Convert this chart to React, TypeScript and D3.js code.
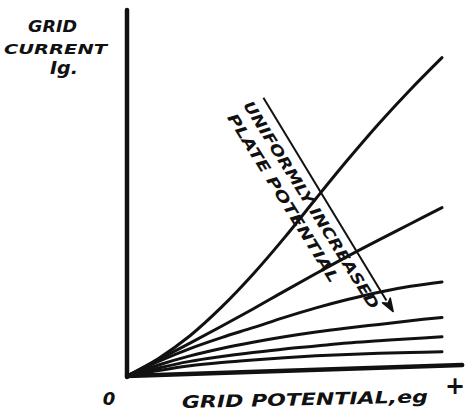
import React from 'react';
import * as d3 from 'd3';

const W = 467;
const H = 412;

// grid potential samples (arbitrary units, 0..100)
const gridPotential = [0, 10, 20, 30, 40, 50, 60, 70, 80, 90, 100];
// grid current curves, one per plate potential (lowest plate potential first)
const curveA = [0, 4.8, 11, 18.8, 27.8, 37.8, 48.5, 59, 69, 78.3, 87];
const curveB = [0, 4.5, 9, 13.6, 18.3, 23.2, 28, 32.7, 37.2, 41.6, 46];
const curveC = [0, 4, 7.5, 10.5, 13.2, 16, 18.6, 20.9, 22.9, 24.5, 25.7];
const curveD = [0, 3, 5.5, 7.5, 9.2, 10.7, 12, 13.1, 14.1, 15.1, 16];
const curveE = [0, 2.2, 4, 5.3, 6.4, 7.4, 8.2, 9, 9.6, 10.2, 10.7];
const curveF = [0, 1.5, 2.8, 3.7, 4.4, 5, 5.5, 5.9, 6.2, 6.4, 6.6];
const curves = [curveA, curveB, curveC, curveD, curveE, curveF];

const yAxisLabel = ['GRID', 'CURRENT', 'Ig.'];
const xAxisLabel = 'GRID POTENTIAL,eg';
const arrowLabel = ['UNIFORMLY INCREASED', 'PLATE POTENTIAL'];

export default function App() {
  const x = d3.scaleLinear().domain([0, 100]).range([127, 442]);
  const y = d3.scaleLinear().domain([0, 100]).range([376, 10]);

  const line = d3
    .line<[number, number]>()
    .x((d) => x(d[0]))
    .y((d) => y(d[1]))
    .curve(d3.curveCatmullRom.alpha(0.5));

  // arrow annotation in data units
  const arrowStart: [number, number] = [43.3, 76];
  const arrowEnd: [number, number] = [84.5, 17.6];
  const ax0 = x(arrowStart[0]);
  const ay0 = y(arrowStart[1]);
  const ax1 = x(arrowEnd[0]);
  const ay1 = y(arrowEnd[1]);
  const ang = Math.atan2(ay1 - ay0, ax1 - ax0);
  const headLen = 13;
  const headW = 4.5;
  const hx = ax1 - headLen * Math.cos(ang);
  const hy = ay1 - headLen * Math.sin(ang);
  const nx = -Math.sin(ang);
  const ny = Math.cos(ang);

  const font = '"DejaVu Sans", Verdana, sans-serif';
  const textStyle = {
    fontFamily: font,
    fontWeight: 'bold' as const,
    fontStyle: 'italic' as const,
    fill: '#111',
  };

  return (
    <svg
      width={W}
      height={H}
      viewBox={`0 0 ${W} ${H}`}
      style={{ position: 'absolute', left: 0, top: 0, display: 'block', background: '#fff' }}
    >
      {/* axes */}
      <line
        x1={x(0)}
        y1={y(100)}
        x2={x(0)}
        y2={y(0) + 1}
        stroke="#111"
        strokeWidth={4.5}
        strokeLinecap="round"
      />
      <line
        x1={x(0)}
        y1={y(0)}
        x2={x(106.4)}
        y2={y(3)}
        stroke="#111"
        strokeWidth={4.5}
        strokeLinecap="round"
      />

      {/* curves */}
      {curves.map((c, i) => (
        <path
          key={i}
          d={line(gridPotential.map((g, j) => [g, c[j]] as [number, number])) || ''}
          fill="none"
          stroke="#111"
          strokeWidth={3}
          strokeLinecap="round"
        />
      ))}

      {/* arrow */}
      <line x1={ax0} y1={ay0} x2={hx} y2={hy} stroke="#111" strokeWidth={2} />
      <path
        d={`M${ax1},${ay1} L${hx + nx * headW},${hy + ny * headW} L${hx + (ax1 - hx) * 0.25},${hy + (ay1 - hy) * 0.25} L${hx - nx * headW},${hy - ny * headW} Z`}
        fill="#111"
        stroke="#111"
        strokeWidth={1.5}
        strokeLinejoin="round"
      />

      {/* arrow labels */}
      <text
        transform="translate(311,205) rotate(58)"
        textAnchor="middle"
        dominantBaseline="central"
        fontSize={15}
        textLength={242}
        lengthAdjust="spacingAndGlyphs"
        style={textStyle}
      >
        {arrowLabel[0]}
      </text>
      <text
        transform="translate(283,198) rotate(58)"
        textAnchor="middle"
        dominantBaseline="central"
        fontSize={15}
        textLength={196}
        lengthAdjust="spacingAndGlyphs"
        style={textStyle}
      >
        {arrowLabel[1]}
      </text>

      {/* y-axis label */}
      <text x={28} y={32} fontSize={15} textLength={49} lengthAdjust="spacingAndGlyphs" style={textStyle}>
        {yAxisLabel[0]}
      </text>
      <text x={4} y={54} fontSize={14} textLength={103} lengthAdjust="spacingAndGlyphs" style={textStyle}>
        {yAxisLabel[1]}
      </text>
      <text x={50} y={74} fontSize={17} textLength={28} lengthAdjust="spacingAndGlyphs" style={textStyle}>
        {yAxisLabel[2]}
      </text>

      {/* origin and plus */}
      <text x={109} y={405} fontSize={18} textAnchor="middle" style={textStyle}>
        0
      </text>
      <text x={455} y={394} fontSize={24} textAnchor="middle" style={{ ...textStyle, fontStyle: 'normal' }}>
        +
      </text>

      {/* x-axis label */}
      <text
        transform="translate(182,408) rotate(-1.3)"
        fontSize={17}
        textLength={246}
        lengthAdjust="spacingAndGlyphs"
        style={textStyle}
      >
        {xAxisLabel}
      </text>
    </svg>
  );
}
